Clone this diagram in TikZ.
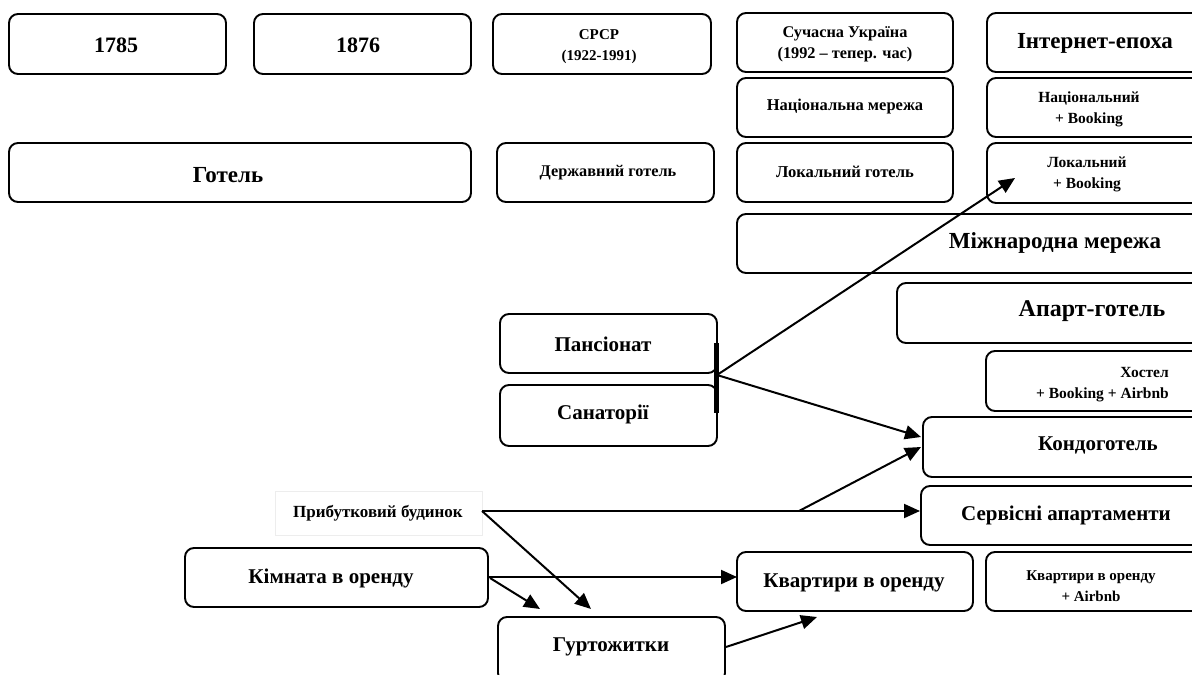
\documentclass[tikz,border=0pt]{standalone}
\usepackage{fontspec}
\setmainfont{Liberation Serif}
\usetikzlibrary{arrows.meta,fit,calc}
\newcommand\bx[5]{\node[box, fit={(#2,#3) (#4,#5)}] (#1) {};}
\begin{document}
\begin{tikzpicture}[x=1pt,y=-1pt,
  box/.style={draw=black, line width=1.9pt, rounded corners=9pt, inner sep=0pt},
  txt/.style={inner sep=0pt, align=center},
  fs/.style={font=\fontsize{#1}{21}\selectfont\bfseries},
  conn/.style={line width=2pt, -{Triangle[length=16pt,width=14pt]}},
]
\clip (0,0) rectangle (1192,675);
\fill[white] (0,0) rectangle (1192,675);

% top row
\bx{n1785}{9}{14}{226}{74}
\node[txt, fs=22] (t1785) at (116,45) {1785};
\bx{n1876}{254}{14}{471}{74}
\node[txt, fs=22] (t1876) at (358,45) {1876};
\bx{nSRSR}{493}{14}{711}{74}
\node[txt, fs=15] (tSRSR) at (599,47) {СРСР\\(1922-1991)};
\bx{nSuch}{737}{13}{953}{72}
\node[txt, fs=16.3] (tSuch) at (845,44) {Сучасна Україна\\(1992 – тепер. час)};
\bx{nInt}{987}{13}{1210}{72}
\node[txt, fs=23] (tInt) at (1095,43) {Інтернет-епоха};

% second row
\bx{nNatNet}{737}{78}{953}{137}
\node[txt, fs=16.5] (tNatNet) at (845,107) {Національна мережа};
\bx{nNatBook}{987}{78}{1210}{137}
\node[txt, fs=15.5] (tNatBook) at (1089,109) {Національний\\+ Booking};

% third row
\bx{nGotel}{9}{143}{471}{202}
\node[txt, fs=23] (tGotel) at (228,175) {Готель};
\bx{nDerzh}{497}{143}{714}{202}
\node[txt, fs=16.3] (tDerzh) at (608,173) {Державний готель};
\bx{nLocal}{737}{143}{953}{202}
\node[txt, fs=16.6] (tLocal) at (845,172) {Локальний готель};
\bx{nLocBook}{987}{143}{1210}{203}
\node[txt, fs=15.5] (tLocBook) at (1087,174) {Локальний\\+ Booking};

% right column
\bx{nIntl}{737}{214}{1210}{273}
\node[txt, fs=23] (tIntl) at (1055,243) {Міжнародна мережа};
\bx{nApart}{897}{283}{1210}{343}
\node[txt, fs=24] (tApart) at (1092,311) {Апарт-готель};
\bx{nHostel}{986}{351}{1210}{411}
\node[txt, fs=15.5, align=right, anchor=east] (tHostel) at (1169,385) {Хостел\\+ Booking + Airbnb};
\bx{nKondo}{923}{417}{1210}{477}
\node[txt, fs=21] (tKondo) at (1098,445) {Кондоготель};
\bx{nServ}{921}{486}{1210}{545}
\node[txt, fs=21] (tServ) at (1066,515) {Сервісні апартаменти};
\bx{nKvart}{737}{552}{973}{611}
\node[txt, fs=21] (tKvart) at (854,583) {Квартири в оренду};
\bx{nKvAir}{986}{552}{1210}{611}
\node[txt, fs=15] (tKvAir) at (1091,586) {Квартири в оренду\\+ Airbnb};

% middle
\bx{nPans}{500}{314}{717}{373}
\node[txt, fs=21] (tPans) at (603,344) {Пансіонат};
\bx{nSanat}{500}{385}{717}{446}
\node[txt, fs=21] (tSanat) at (603,414) {Санаторії};
\coordinate (barTop) at (716,343);
\coordinate (barBot) at (716,413);
\draw[line width=5pt] (barTop) -- (barBot);
\coordinate (j) at (717,375);

% bottom
\node[draw=black!7, line width=0.6pt, minimum width=207pt, minimum height=44pt, inner sep=0pt] (nPryb) at (378.5,513) {};
\node[txt, fs=17] (tPryb) at (378,513) {Прибутковий будинок};
\bx{nKimn}{185}{548}{488}{607}
\node[txt, fs=21] (tKimn) at (331,578) {Кімната в оренду};
\bx{nHurt}{498}{617}{725}{682}
\node[txt, fs=21] (tHurt) at (611,647) {Гуртожитки};

% connector points
\coordinate (sPryb) at (482,511);
\coordinate (br) at (799,511);
\coordinate (eLoc) at (1015,178);
\coordinate (eK1) at (921,437);
\coordinate (eK2) at (921,447);
\coordinate (eServ) at (920,511);
\coordinate (eH1) at (591,609);
\coordinate (eH2) at (540,609);
\coordinate (sKimn) at (489,577);
\coordinate (sKimn2) at (490,578);
\coordinate (eKv1) at (737,577);
\coordinate (sHurt) at (726,647);
\coordinate (eKv2) at (817,617);

\draw[conn] (j) -- (eLoc);
\draw[conn] (j) -- (eK1);
\draw[conn] (sPryb) -- (eServ);
\draw[conn] (br) -- (eK2);
\draw[conn] (sPryb) -- (eH1);
\draw[conn] (sKimn) -- (eKv1);
\draw[conn] (sKimn2) -- (eH2);
\draw[conn] (sHurt) -- (eKv2);
\end{tikzpicture}
\end{document}
